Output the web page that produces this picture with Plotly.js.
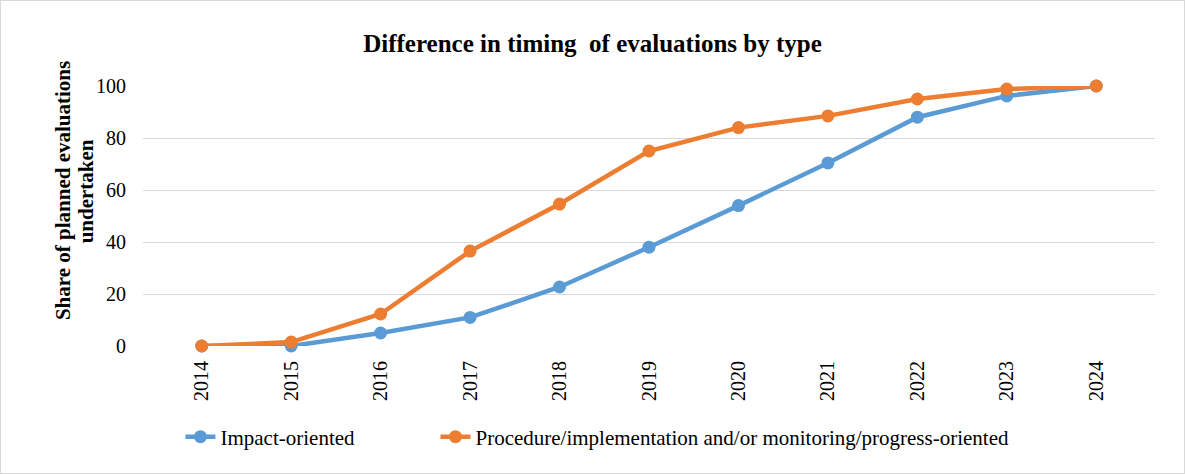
<!DOCTYPE html>
<html>
<head>
<meta charset="utf-8">
<script src="https://cdn.plot.ly/plotly-3.0.1.min.js"></script>
<style>
html,body{margin:0;padding:0;background:#fff;}
#chart{width:1185px;height:474px;box-sizing:border-box;border:1px solid #d9d9d9;}
</style>
</head>
<body>
<div id="chart"></div>
<script>
const years = ["2014","2015","2016","2017","2018","2019","2020","2021","2022","2023","2024"];
const impactOriented = [0, 0, 5, 11, 22.7, 38, 54, 70.4, 88, 96.2, 100];
const procedureOriented = [0, 1.5, 12.3, 36.5, 54.6, 75, 84, 88.5, 95, 98.8, 100];
const seriesNames = ["Impact-oriented", "Procedure/implementation and/or monitoring/progress-oriented"];
const yTitleLines = ["Share of planned evaluations", "undertaken"];

const font = "'Liberation Serif', 'Times New Roman', serif";
const traces = [
  {x: years, y: impactOriented, name: seriesNames[0], type: "scatter", mode: "lines+markers",
   line: {color: "#5b9bd5", width: 4.5}, marker: {color: "#5b9bd5", size: 13}, cliponaxis: false,
   legend: "legend"},
  {x: years, y: procedureOriented, name: seriesNames[1], type: "scatter", mode: "lines+markers",
   line: {color: "#ed7d31", width: 4.5}, marker: {color: "#ed7d31", size: 13}, cliponaxis: false,
   legend: "legend2"}
];
const legendFont = {family: font, size: 21, color: "#000"};
const layout = {
  width: 1183, height: 472,
  margin: {l: 142, r: 29, t: 85, b: 127},
  paper_bgcolor: "#fff", plot_bgcolor: "#fff",
  font: {family: font, size: 20, color: "#000"},
  title: {text: "<b>Difference in timing  of evaluations by type</b>", x: 0.5, xref: "container", xanchor: "center",
          y: 0.911, yanchor: "middle",
          font: {family: font, size: 25, color: "#000"}},
  xaxis: {type: "category", tickangle: -90, showgrid: false, zeroline: false, showline: false,
          ticks: "outside", ticklen: 6, tickcolor: "rgba(0,0,0,0)", tickfont: {family: font, size: 20, color: "#000"}},
  yaxis: {range: [0, 100], dtick: 20, showgrid: true, gridcolor: "#d9d9d9", gridwidth: 1,
          zeroline: false, showline: false, ticks: "outside", ticklen: 12, tickcolor: "rgba(0,0,0,0)",
          tickfont: {family: font, size: 20, color: "#000"}},
  annotations: [
    {text: "<b>" + yTitleLines[0] + "</b>", xref: "paper", yref: "paper", x: -0.079, y: 0.596,
     xanchor: "center", yanchor: "middle", textangle: -90, showarrow: false,
     font: {family: font, size: 21, color: "#000"}},
    {text: "<b>" + yTitleLines[1] + "</b>", xref: "paper", yref: "paper", x: -0.056, y: 0.596,
     xanchor: "center", yanchor: "middle", textangle: -90, showarrow: false,
     font: {family: font, size: 21, color: "#000"}}
  ],
  legend: {orientation: "h", x: 0.037, xanchor: "left", y: -0.35, yanchor: "middle",
           font: legendFont, bgcolor: "rgba(0,0,0,0)"},
  legend2: {orientation: "h", x: 0.289, xanchor: "left", y: -0.35, yanchor: "middle",
           font: legendFont, bgcolor: "rgba(0,0,0,0)"},
  showlegend: true
};
Plotly.newPlot("chart", traces, layout, {displayModeBar: false, staticPlot: true});
</script>
</body>
</html>
